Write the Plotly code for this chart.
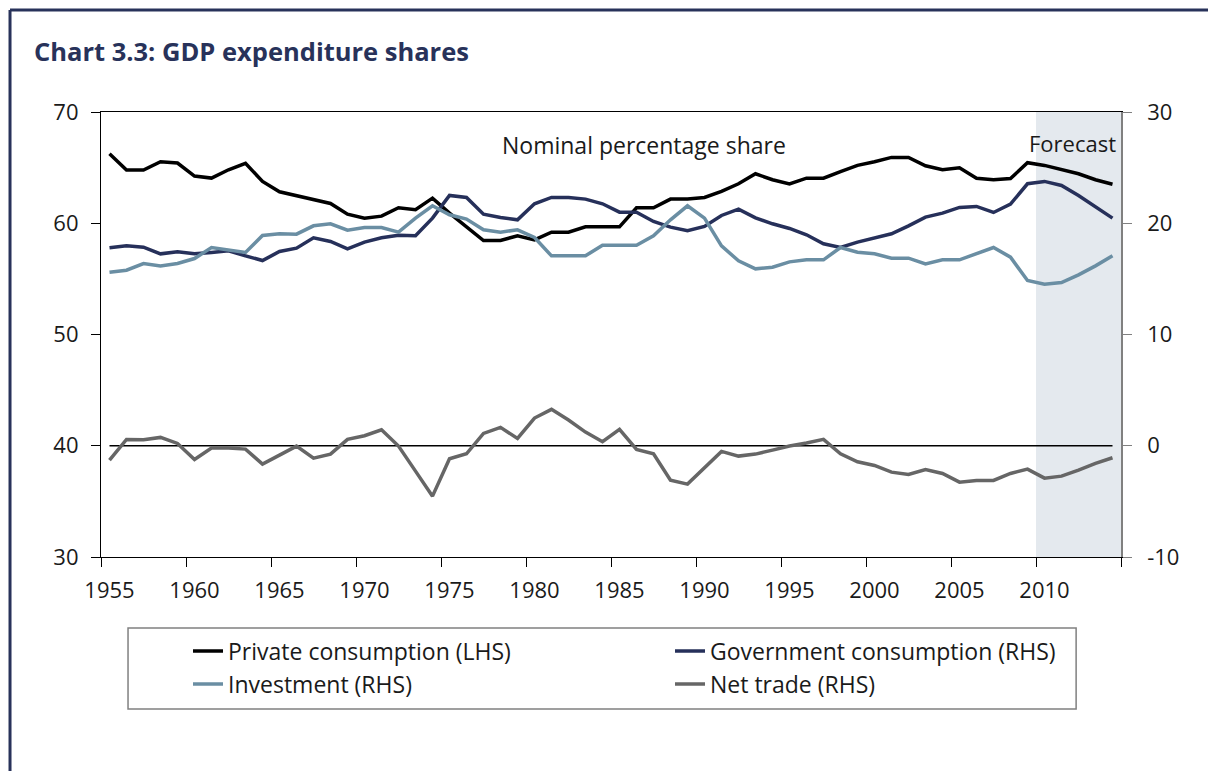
import plotly.graph_objects as go

years = list(range(1955, 2015))

private_consumption = [
    66.25, 64.78, 64.78, 65.53, 65.41, 64.24, 64.06, 64.81, 65.38, 63.76,
    62.83, 62.50, 62.14, 61.78, 60.82, 60.46, 60.64, 61.39, 61.21, 62.26,
    60.91, 59.71, 58.45, 58.45, 58.87, 58.51, 59.20, 59.20, 59.68, 59.68,
    59.68, 61.39, 61.39, 62.17, 62.17, 62.32, 62.86, 63.55, 64.45, 63.91,
    63.53, 64.05, 64.05, 64.65, 65.20, 65.53, 65.92, 65.92, 65.17, 64.81,
    64.99, 64.05, 63.91, 64.02, 65.44, 65.20, 64.81, 64.45, 63.91, 63.51,
]

government_consumption = [
    17.79, 17.97, 17.85, 17.25, 17.43, 17.25, 17.37, 17.52, 17.07, 16.65,
    17.46, 17.76, 18.69, 18.36, 17.70, 18.30, 18.69, 18.93, 18.87, 20.46,
    22.50, 22.32, 20.82, 20.52, 20.31, 21.75, 22.32, 22.32, 22.17, 21.75,
    21.00, 21.00, 20.16, 19.65, 19.32, 19.71, 20.70, 21.27, 20.49, 19.95,
    19.53, 18.96, 18.15, 17.82, 18.30, 18.66, 19.05, 19.77, 20.55, 20.91,
    21.42, 21.51, 20.97, 21.72, 23.55, 23.76, 23.40, 22.50, 21.51, 20.46,
]

investment = [
    15.60, 15.78, 16.38, 16.17, 16.38, 16.83, 17.82, 17.58, 17.37, 18.90,
    19.05, 19.02, 19.77, 19.95, 19.38, 19.62, 19.62, 19.20, 20.46, 21.57,
    20.76, 20.37, 19.41, 19.20, 19.41, 18.72, 17.07, 17.07, 17.07, 18.03,
    18.03, 18.03, 18.87, 20.31, 21.57, 20.46, 17.97, 16.62, 15.90, 16.05,
    16.53, 16.71, 16.71, 17.82, 17.40, 17.25, 16.86, 16.86, 16.35, 16.71,
    16.71, 17.25, 17.82, 16.95, 14.85, 14.52, 14.67, 15.36, 16.17, 17.07,
]

net_trade = [
    -1.29, 0.57, 0.54, 0.75, 0.21, -1.23, -0.21, -0.21, -0.30, -1.65,
    -0.84, -0.03, -1.11, -0.75, 0.57, 0.90, 1.44, -0.03, -2.28, -4.53,
    -1.17, -0.72, 1.11, 1.65, 0.66, 2.49, 3.27, 2.31, 1.23, 0.36,
    1.47, -0.33, -0.72, -3.09, -3.45, -1.98, -0.51, -0.93, -0.75, -0.39,
    -0.03, 0.24, 0.57, -0.72, -1.44, -1.77, -2.37, -2.58, -2.13, -2.49,
    -3.27, -3.12, -3.12, -2.49, -2.10, -2.91, -2.73, -2.19, -1.59, -1.08,
]

zero_line = [0] * len(years)

tick_years = [1955, 1960, 1965, 1970, 1975, 1980, 1985, 1990, 1995, 2000, 2005, 2010]
tick_labels = [str(y) for y in tick_years]
boundary_ticks = [y - 0.5 for y in range(1955, 2016, 5)]
left_ticks = [30, 40, 50, 60, 70]
right_ticks = [-10, 0, 10, 20, 30]
right_tick_labels = ["-10", "0", "10", "20", "30"]
forecast_start = 2010
forecast_end = 2014

FONT = "Open Sans"
TEXT = "#1a1a1a"
NAVY = "#28325a"

fig = go.Figure()

fig.add_trace(go.Scatter(x=years, y=zero_line, yaxis="y2", mode="lines",
                         line=dict(color="#000000", width=1.5),
                         showlegend=False, hoverinfo="skip"))
fig.add_trace(go.Scatter(x=years, y=private_consumption, mode="lines",
                         name="Private consumption (LHS)",
                         line=dict(color="#000000", width=3.5)))
fig.add_trace(go.Scatter(x=years, y=government_consumption, yaxis="y2", mode="lines",
                         name="Government consumption (RHS)",
                         line=dict(color="#26305a", width=3.5)))
fig.add_trace(go.Scatter(x=years, y=investment, yaxis="y2", mode="lines",
                         name="Investment (RHS)",
                         line=dict(color="#6a8ea3", width=3.5)))
fig.add_trace(go.Scatter(x=years, y=net_trade, yaxis="y2", mode="lines",
                         name="Net trade (RHS)",
                         line=dict(color="#666666", width=3.5)))

# Forecast shading
fig.add_shape(type="rect", xref="x", yref="paper",
              x0=forecast_start - 0.5, x1=forecast_end + 0.5, y0=0, y1=1,
              fillcolor="#e4e9ee", line=dict(width=0), layer="below")

# Outer frame (top and left)
fig.add_shape(type="line", xref="paper", yref="paper",
              x0=-0.0892, x1=1.09, y0=1.229, y1=1.229,
              line=dict(color=NAVY, width=3))
fig.add_shape(type="line", xref="paper", yref="paper",
              x0=-0.0892, x1=-0.0892, y0=1.229, y1=-0.49,
              line=dict(color=NAVY, width=3))

# Legend box
fig.add_shape(type="rect", xref="paper", yref="paper",
              x0=0.0265, x1=0.956, y0=-0.3416, y1=-0.1596,
              line=dict(color="#808080", width=1.5), fillcolor="rgba(0,0,0,0)")

fig.add_annotation(text="Nominal percentage share", xref="paper", yref="paper",
                   x=0.391, y=0.926, xanchor="left", yanchor="middle",
                   showarrow=False, font=dict(family=FONT, size=23, color=TEXT))
fig.add_annotation(text="Forecast", xref="paper", yref="paper",
                   x=0.997, y=0.93, xanchor="right", yanchor="middle",
                   showarrow=False, font=dict(family=FONT, size=22, color=TEXT))

fig.update_layout(
    width=1208, height=771,
    margin=dict(l=101, r=87, t=112, b=214),
    paper_bgcolor="white", plot_bgcolor="white",
    font=dict(family=FONT, size=22, color=TEXT),
    title=dict(text="<b>Chart 3.3: GDP expenditure shares</b>",
               x=34 / 1208, xanchor="left", y=1 - 52 / 771, yanchor="middle",
               font=dict(family=FONT, size=25.5, color=NAVY)),
    xaxis=dict(range=[1954.5, 2014.5], tickmode="array", tickvals=tick_years,
               ticktext=tick_labels, ticks="outside", ticklen=13,
               tickcolor="rgba(0,0,0,0)",
               minor=dict(tickmode="array", tickvals=boundary_ticks, ticks="outside",
                          ticklen=9, tickcolor="#000000", tickwidth=1.2, showgrid=False),
               showline=True, linecolor="#000000", linewidth=1.2, mirror=True,
               showgrid=False, zeroline=False,
               tickfont=dict(family=FONT, size=22, color=TEXT)),
    yaxis=dict(range=[30, 70], tickmode="array", tickvals=left_ticks,
               ticks="outside", ticklen=9, tickcolor="#000000", tickwidth=1.2,
               showline=True, linecolor="#000000", linewidth=1.2,
               showgrid=False, zeroline=False, ticklabelstandoff=8,
               tickfont=dict(family=FONT, size=22, color=TEXT)),
    yaxis2=dict(range=[-10, 30], tickmode="array", tickvals=right_ticks,
                ticktext=right_tick_labels,
                overlaying="y", side="right",
                ticks="outside", ticklen=9, tickcolor="#808080", tickwidth=1.2,
                showline=True, linecolor="#808080", linewidth=1.5,
                showgrid=False, zeroline=False, ticklabelstandoff=11,
                tickfont=dict(family=FONT, size=22, color=TEXT)),
    legend=dict(orientation="h", x=0.0853, y=-0.163, xanchor="left", yanchor="top",
                entrywidth=437, bgcolor="rgba(0,0,0,0)", borderwidth=0,
                font=dict(family=FONT, size=23, color=TEXT),
                itemwidth=30),
    showlegend=True,
)

fig.write_html("out.html",
               config={"displayModeBar": False},
               post_script="document.body.style.margin='0px';"
                           "document.body.style.overflow='hidden';")
